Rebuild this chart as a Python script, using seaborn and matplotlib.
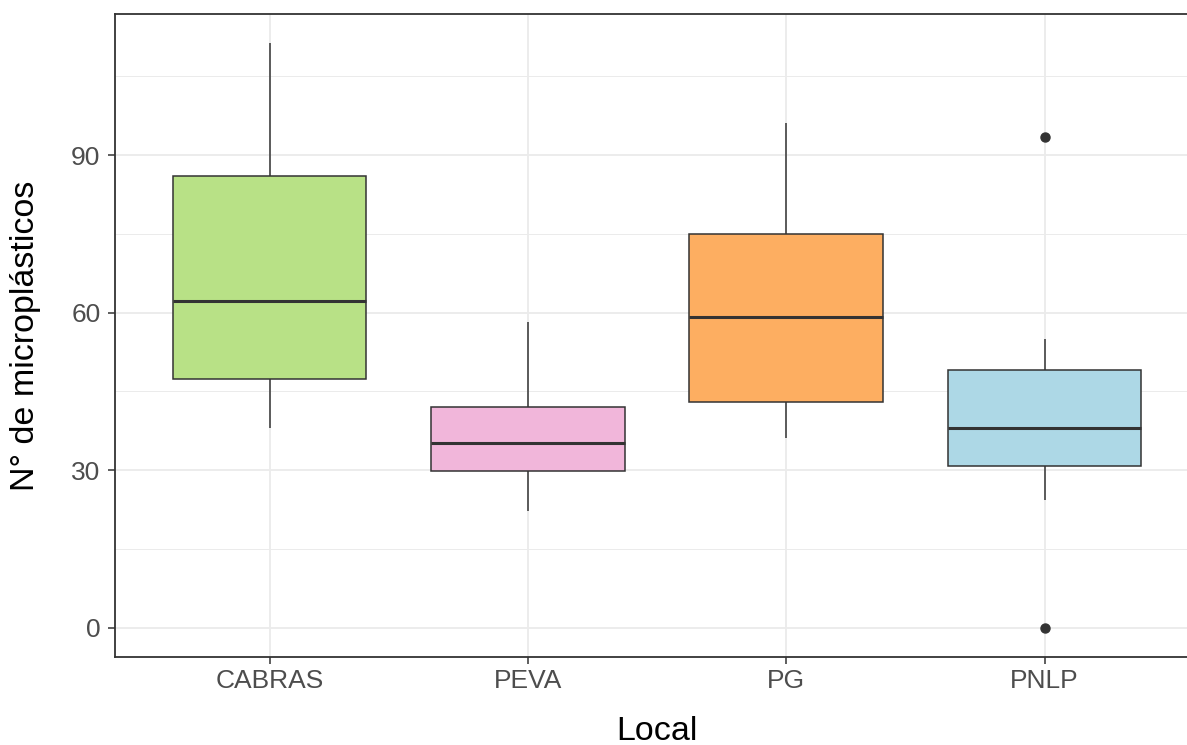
import numpy as np
import pandas as pd
import matplotlib
matplotlib.use("Agg")
import matplotlib.pyplot as plt
from matplotlib.ticker import MultipleLocator
import seaborn as sns

# Microplastic counts per sampling site
locais = ["CABRAS", "PEVA", "PG", "PNLP"]
cabras = [38.0, 47.4, 62.2, 86.0, 111.3]
peva = [22.3, 29.9, 35.2, 42.0, 58.2]
pg = [36.1, 43.0, 59.2, 74.9, 96.1]
pnlp = [0.0, 24.3, 30.8, 35.0, 38.0, 44.0, 49.1, 55.0, 93.4]

cores = ["#B8E186", "#F1B6DA", "#FDAE61", "#ADD8E6"]

df = pd.DataFrame({
    "Local": (["CABRAS"] * len(cabras) + ["PEVA"] * len(peva)
              + ["PG"] * len(pg) + ["PNLP"] * len(pnlp)),
    "n": cabras + peva + pg + pnlp,
})

sns.set_theme(style="white")
plt.rcParams["font.family"] = ["Liberation Sans", "DejaVu Sans"]

fig = plt.figure(figsize=(11.87, 7.45), dpi=100)
# panel runs slightly past the right edge of the canvas
ax = fig.add_axes([114.5 / 1187, 1 - 657 / 745, 1085 / 1187, 643 / 745])

edge = "#333333"
sns.boxplot(
    data=df, x="Local", y="n", order=locais, hue="Local", hue_order=locais,
    palette=cores, legend=False, width=0.75, whis=1.5, ax=ax,
    linewidth=1.1, linecolor=edge, showcaps=False,
    medianprops=dict(color=edge, linewidth=2.2),
    flierprops=dict(marker="o", markerfacecolor=edge, markeredgecolor=edge,
                    markersize=6.5),
    saturation=1,
)

ax.set_xlim(-0.6, 3.6)
ax.set_ylim(-5.6, 116.9)
ax.yaxis.set_major_locator(MultipleLocator(30))
ax.yaxis.set_minor_locator(MultipleLocator(15))

ax.set_axisbelow(True)
ax.grid(True, which="major", color="#EBEBEB", linewidth=1.3)
ax.grid(True, which="minor", axis="y", color="#EBEBEB", linewidth=0.7)

for s in ax.spines.values():
    s.set_color("#333333")
    s.set_linewidth(1.3)

ax.tick_params(axis="both", which="major", length=5, width=1.1,
               color="#333333", labelcolor="#4D4D4D", labelsize=19,
               direction="out", bottom=True, left=True, pad=4)
ax.tick_params(axis="y", which="major", pad=5)
ax.tick_params(axis="y", which="minor", length=0)

ax.set_xlabel("Local", fontsize=24.5, color="black", labelpad=16)
ax.set_ylabel("N° de microplásticos", fontsize=24.5, color="black", labelpad=22)

fig.savefig("out.png", dpi=100, facecolor="white")
